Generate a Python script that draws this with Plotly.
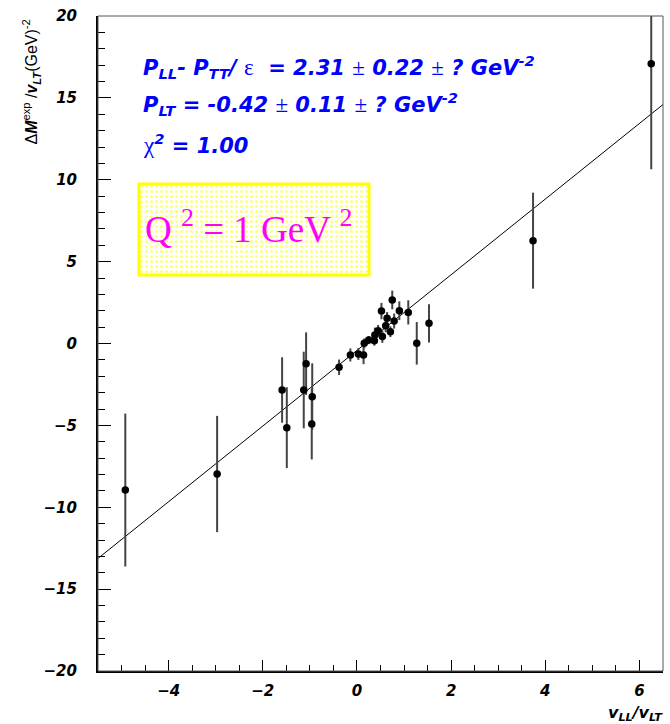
import plotly.graph_objects as go

# Measured ratio dM/v_LT versus v_LL/v_LT at Q^2 = 1 GeV^2
ratio_x = [-4.92, -2.97, -1.59, -1.49, -1.13, -1.08, -0.95, -0.96, -0.38, -0.14,
           0.03, 0.14, 0.155, 0.25, 0.37, 0.38, 0.45, 0.54, 0.52, 0.61,
           0.64, 0.71, 0.75, 0.79, 0.90, 1.09, 1.27, 1.53, 3.74, 6.25]
delta_m = [-8.95, -7.97, -2.84, -5.14, -2.84, -1.23, -3.25, -4.92, -1.45, -0.70,
           -0.64, -0.70, 0.01, 0.21, 0.17, 0.52, 0.78, 0.42, 1.98, 1.09,
           1.54, 0.72, 2.66, 1.37, 2.00, 1.90, 0.01, 1.23, 6.28, 17.09]
delta_m_err = [4.67, 3.55, 2.00, 2.47, 2.34, 1.91, 2.04, 2.16, 0.47, 0.40,
               0.36, 0.56, 0.30, 0.25, 0.30, 0.45, 0.35, 0.38, 0.50, 0.40,
               0.38, 0.33, 0.57, 0.46, 0.57, 0.74, 1.30, 1.17, 2.93, 6.45]

# Straight-line fit: slope = P_LL - P_TT/eps, intercept = P_LT
fit_slope = 2.31
fit_slope_err = 0.22
fit_intercept = -0.42
fit_intercept_err = 0.11
chi2 = 1.00

x_range = [-5.5, 6.5]
y_range = [-20, 20]

fit_x = list(x_range)
fit_y = [fit_slope * v + fit_intercept for v in fit_x]

# plot-area margins in pixels
W, H = 670, 724
ML, MR, MT, MB = 98, 7, 16, 53
PW, PH = W - ML - MR, H - MT - MB


def px(xpix):
    return (xpix - ML) / PW


def py(ypix):
    return (H - MB - ypix) / PH


BIF = "DejaVu Sans"

fig = go.Figure()

fig.add_trace(go.Scatter(
    x=fit_x, y=fit_y, mode="lines",
    line=dict(color="black", width=1),
    hoverinfo="skip", showlegend=False,
))

fig.add_trace(go.Scatter(
    x=ratio_x, y=delta_m, mode="markers",
    marker=dict(color="black", size=7.5, symbol="circle"),
    error_y=dict(type="data", array=delta_m_err, visible=True,
                 color="#444444", thickness=2, width=0),
    showlegend=False,
))

# dotted yellow fill of the Q^2 label box (pattern-filled bar on an overlay axis)
box_l, box_r, box_t, box_b = 139, 369, 184, 275
fig.add_trace(go.Bar(
    x=[0], y=[1], width=[1], xaxis="x2", yaxis="y2",
    marker=dict(color="white", line=dict(width=0),
                pattern=dict(shape=".", fgcolor="#ffff00", bgcolor="white",
                             size=5, solidity=0.3)),
    hoverinfo="skip", showlegend=False,
))

axis_common = dict(
    showgrid=False, zeroline=False, showline=True, linecolor="black", linewidth=2,
    ticks="inside", tickcolor="black", tickwidth=1,
    tickfont=dict(family=BIF, size=15, color="black", weight="bold", style="italic"),
)

fig.update_layout(
    width=W, height=H,
    margin=dict(l=ML, r=MR, t=MT, b=MB, pad=0),
    paper_bgcolor="white", plot_bgcolor="white",
    xaxis=dict(range=x_range, tick0=0, dtick=2, ticklen=11,
               minor=dict(dtick=0.5, ticklen=6, ticks="inside", tickcolor="black"),
               ticklabelstandoff=5, **axis_common),
    yaxis=dict(range=y_range, tick0=0, dtick=5, ticklen=13,
               minor=dict(dtick=1, ticklen=7, ticks="inside", tickcolor="black"),
               ticklabelstandoff=16, **axis_common),
    xaxis2=dict(domain=[px(box_l), px(box_r)], range=[-0.5, 0.5], visible=False,
                anchor="y2", fixedrange=True),
    yaxis2=dict(domain=[py(box_b), py(box_t)], range=[0, 1], visible=False,
                anchor="x2", fixedrange=True),
    bargap=0,
)

# thin frame on the top and right sides
fig.add_shape(type="rect", xref="paper", yref="paper", x0=0, x1=1, y0=0, y1=1,
              line=dict(color="#555555", width=1), layer="above")
# yellow border of the label box
fig.add_shape(type="rect", xref="paper", yref="paper",
              x0=px(box_l), x1=px(box_r), y0=py(box_b), y1=py(box_t),
              line=dict(color="#ffff00", width=3), layer="above")

blue = "#0000ff"
sym = ("<span style=\"font-family:'Liberation Serif';font-weight:normal;"
       "font-style:normal;font-size:23px\">{}</span>")
eps = sym.format("ε")
pm = sym.format("±")
chi = sym.format("χ")

lines = [
    (67, f"P<sub>LL</sub>- P<sub>TT</sub>/ {eps}  = {fit_slope:.2f} {pm} {fit_slope_err:.2f} {pm} ? GeV<sup>-2</sup>"),
    (104, f"P<sub>LT</sub> = {fit_intercept:.2f} {pm} {fit_intercept_err:.2f} {pm} ? GeV<sup>-2</sup>"),
    (144, f"{chi}<sup>2</sup> = {chi2:.2f}"),
]
for ypix, txt in lines:
    fig.add_annotation(
        xref="paper", yref="paper", x=px(141), y=py(ypix),
        xanchor="left", yanchor="middle", showarrow=False,
        text=txt,
        font=dict(family=BIF, size=21, color=blue, weight="bold", style="italic"),
    )

# Q^2 label
fig.add_annotation(
    xref="paper", yref="paper", x=px(248), y=py(226),
    xanchor="center", yanchor="middle", showarrow=False,
    text="Q <sup>2</sup> = 1 GeV <sup>2</sup>",
    font=dict(family="Liberation Serif", size=37, color="#ff00ff"),
)

# axis titles
fig.add_annotation(
    xref="paper", yref="paper", x=px(31), y=py(18),
    xanchor="center", yanchor="top", showarrow=False, textangle=-90,
    text="Δ<b><i>M</i></b><sup>exp</sup> /<b><i>v<sub>LT</sub></i></b>(GeV)<sup>-2</sup>",
    font=dict(family="Liberation Sans", size=16, color="black"),
)
fig.add_annotation(
    xref="paper", yref="paper", x=px(665), y=py(713),
    xanchor="right", yanchor="middle", showarrow=False,
    text="v<sub>LL</sub>/v<sub>LT</sub>",
    font=dict(family=BIF, size=16, color="black", weight="bold", style="italic"),
)

fig.write_html("out.html")
